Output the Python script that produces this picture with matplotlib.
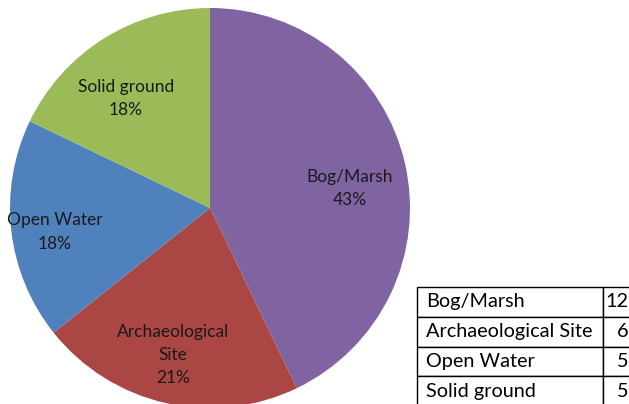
import matplotlib.pyplot as plt
import numpy as np

categories = ["Bog/Marsh", "Archaeological Site", "Open Water", "Solid ground"]
pie_labels = ["Bog/Marsh", "Archaeological\nSite", "Open Water", "Solid ground"]
counts = [12, 6, 5, 5]
colors = ["#8064A2", "#AA4643", "#4F81BD", "#9BBB59"]

plt.rcParams["font.family"] = ["Lato", "DejaVu Sans"]

W, H = 629, 404
fig = plt.figure(figsize=(W / 100, H / 100), dpi=100)

# pie: centre (210, 208) px, radius 200 px
ax = fig.add_axes([10 / W, (H - 408) / H, 400 / W, 400 / H])
wedges, _ = ax.pie(counts, colors=colors, startangle=90, counterclock=False,
                   radius=1.0, wedgeprops=dict(linewidth=0))
ax.set_xlim(-1, 1)
ax.set_ylim(-1, 1)
ax.set_aspect("equal")
ax.axis("off")

total = sum(counts)
# (radius, angle shift in degrees) for each label, relative to the wedge middle
label_place = [(0.707, -4.8), (0.758, -1.3), (0.784, 2.4), (0.692, 5.3)]
for w, lab, n, (r, dt) in zip(wedges, pie_labels, counts, label_place):
    mid = np.deg2rad((w.theta1 + w.theta2) / 2 + dt)
    ax.text(r * np.cos(mid), r * np.sin(mid), f"{lab}\n{n / total:.0%}",
            ha="center", va="center", fontsize=12.5, color="#1a1a1a",
            linespacing=1.55)

# data table in the bottom-right corner (partly cut off)
tax = fig.add_axes([417 / W, -2 / H, (640 - 417) / W, (404 + 2 - 287) / H])
tax.axis("off")
cells = [[c, str(v)] for c, v in zip(categories, counts)]
tbl = tax.table(cellText=cells, bbox=[0, 0, 1, 1],
                colWidths=[186 / 223, 37 / 223])
tbl.auto_set_font_size(False)
for (r, c), cell in tbl.get_celld().items():
    cell.set_linewidth(1.0)
    cell.set_edgecolor("black")
    cell.get_text().set_fontsize(14.3)
    if c == 0:
        cell.get_text().set_ha("left")
        cell.PAD = 0.05
    else:
        cell.get_text().set_ha("right")
        cell.PAD = 0.3

fig.savefig("out.png", dpi=100)
